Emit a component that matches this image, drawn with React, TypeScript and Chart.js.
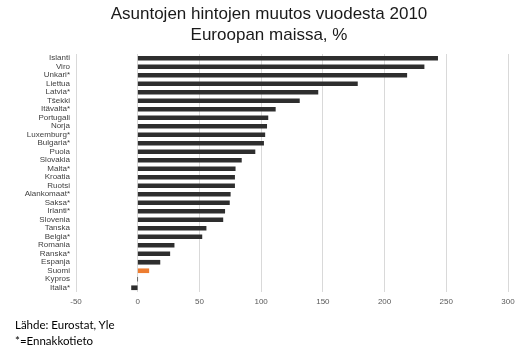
import React, { useEffect, useRef } from "react";
import { Chart, registerables } from "chart.js";

Chart.register(...registerables);

const countries = [
  "Islanti", "Viro", "Unkari*", "Liettua", "Latvia*", "Tšekki", "Itävalta*",
  "Portugali", "Norja", "Luxemburg*", "Bulgaria*", "Puola", "Slovakia", "Malta*",
  "Kroatia", "Ruotsi", "Alankomaat*", "Saksa*", "Irlanti*", "Slovenia", "Tanska",
  "Belgia*", "Romania", "Ranska*", "Espanja", "Suomi", "Kypros", "Italia*",
];
const changes = [
  243, 232, 218, 178, 146, 131, 111.5,
  105.5, 104.5, 103, 102, 95, 84, 79,
  78.5, 78.5, 75, 74.3, 70.5, 69, 55.4,
  52, 29.5, 26, 18, 9, 0, -5,
];
const highlight = "Suomi";
const xTicks = [-50, 0, 50, 100, 150, 200, 250, 300];
const titleLines = ["Asuntojen hintojen muutos vuodesta 2010", "Euroopan maissa, %"];
const footnotes = ["Lähde: Eurostat, Yle", "*=Ennakkotieto"];

const titlePlugin = {
  id: "offsetTitle",
  afterDraw(chart: any) {
    const ctx = chart.ctx;
    ctx.save();
    ctx.fillStyle = "#1a1a1a";
    ctx.font = "17px 'Liberation Sans', Arial, sans-serif";
    ctx.textAlign = "center";
    ctx.textBaseline = "middle";
    const cx = 269;
    titleLines.forEach((line, i) => {
      ctx.fillText(line, cx, 14.5 + i * 21);
    });
    ctx.restore();
  },
};

export default function App() {
  const ref = useRef<HTMLCanvasElement | null>(null);
  useEffect(() => {
    if (!ref.current) return;
    const chart = new Chart(ref.current, {
      type: "bar",
      data: {
        labels: countries,
        datasets: [
          {
            data: changes,
            backgroundColor: countries.map((c) => (c === highlight ? "#ed7d31" : "#2e2e2e")),
            barThickness: 4,
            borderWidth: 0,
          },
        ],
      },
      plugins: [titlePlugin],
      options: {
        indexAxis: "y",
        animation: false,
        responsive: false,
        maintainAspectRatio: false,
        layout: { padding: { left: 0, right: 24, top: 54, bottom: 0 } },
        plugins: {
          legend: { display: false },
          tooltip: { enabled: false },
          title: { display: false },
        },
        scales: {
          x: {
            type: "linear",
            min: -50,
            max: 300,
            afterBuildTicks: (scale: any) => {
              scale.ticks = xTicks.map((v) => ({ value: v }));
            },
            afterFit: (scale: any) => {
              scale.height = 56;
            },
            grid: { color: "#d9d9d9", drawTicks: false, lineWidth: 1 },
            border: { display: false },
            ticks: {
              color: "#595959",
              padding: 5,
              font: { family: "'Liberation Sans', Arial, sans-serif", size: 8 },
            },
          },
          y: {
            afterFit: (scale: any) => {
              scale.width = 76;
            },
            grid: { display: false, drawTicks: false },
            border: { display: false },
            ticks: {
              color: "#404040",
              padding: 6,
              autoSkip: false,
              font: { family: "'Liberation Sans', Arial, sans-serif", size: 8 },
            },
          },
        },
      },
    });
    return () => chart.destroy();
  }, []);

  return (
    <div style={{ position: "fixed", left: 0, top: 0, width: 532, height: 348, background: "#fff" }}>
      <canvas ref={ref} width={532} height={348} style={{ display: "block" }} />
      <div
        style={{
          position: "absolute",
          left: 15,
          top: 317,
          fontFamily: "Lato, 'Open Sans', sans-serif",
          fontSize: 11.5,
          lineHeight: "16px",
          color: "#000",
        }}
      >
        {footnotes.map((f) => (
          <div key={f}>{f}</div>
        ))}
      </div>
    </div>
  );
}
